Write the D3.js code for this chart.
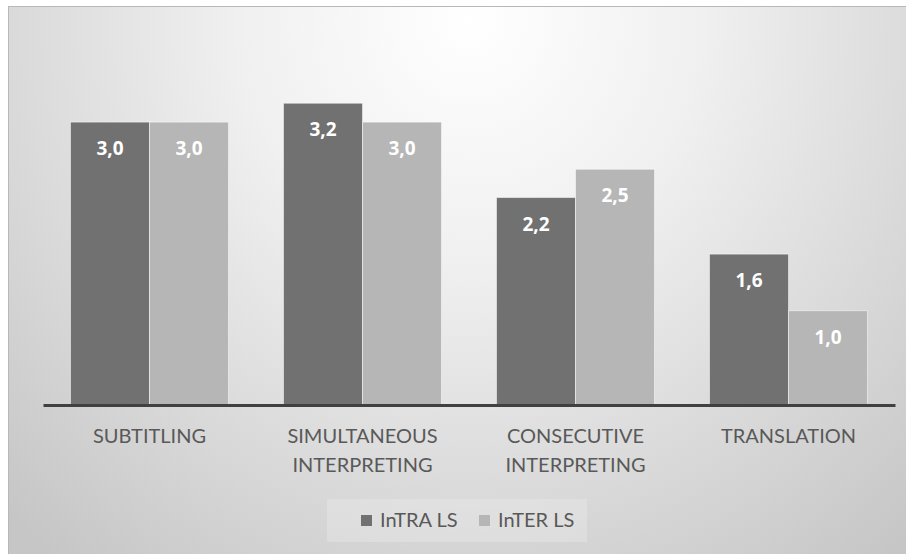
<!DOCTYPE html>
<html>
<head>
<meta charset="utf-8">
<script src="https://cdn.jsdelivr.net/npm/d3@7"></script>
<style>
  html, body { margin: 0; padding: 0; background: #ffffff; }
  svg { display: block; }
</style>
</head>
<body>
<svg id="chart" width="906" height="554"></svg>
<script>
const categories = [["SUBTITLING"], ["SIMULTANEOUS", "INTERPRETING"], ["CONSECUTIVE", "INTERPRETING"], ["TRANSLATION"]];
const seriesNames = ["InTRA LS", "InTER LS"];
const intraValues = [3.0, 3.2, 2.2, 1.6];
const interValues = [3.0, 3.0, 2.5, 1.0];
const seriesColors = ["#717171", "#b6b6b6"];

const svg = d3.select("#chart");
const W = 906, H = 554;
const font = "Lato, 'Open Sans', sans-serif";
const valFont = "'Open Sans', sans-serif";

// background
const defs = svg.append("defs");
const grad = defs.append("radialGradient")
  .attr("id", "bg").attr("gradientUnits", "userSpaceOnUse")
  .attr("cx", 470).attr("cy", 20).attr("r", 600)
  .attr("gradientTransform", "translate(470,20) scale(1.1,1.15) translate(-470,-20)");
grad.append("stop").attr("offset", "0").attr("stop-color", "#ffffff");
grad.append("stop").attr("offset", "0.35").attr("stop-color", "#f0f0f0");
grad.append("stop").attr("offset", "1").attr("stop-color", "#c6c6c6");

svg.append("rect").attr("x", 8.5).attr("y", 6.5).attr("width", W).attr("height", H)
  .attr("fill", "url(#bg)").attr("stroke", "#b8b8b8").attr("stroke-width", 1);

const keys = categories.map(c => c.join(" "));
const baseY = 405;
const x0 = d3.scaleBand().domain(keys).range([43, 895]).paddingInner(0).paddingOuter(0);
const groupW = x0.bandwidth() * (158 / 213);
const x1 = d3.scaleBand().domain(seriesNames).range([0, groupW]).padding(0);
const y = d3.scaleLinear().domain([0, 4]).range([baseY, baseY - 4 * 94.3]);

const data = keys.map((k, i) => ({ key: k, vals: [intraValues[i], interValues[i]] }));

const groups = svg.append("g").selectAll("g").data(data).join("g")
  .attr("transform", d => `translate(${x0(d.key) + (x0.bandwidth() - groupW) / 2},0)`);

groups.selectAll("rect").data(d => d.vals.map((v, j) => ({ v, s: seriesNames[j], j })))
  .join("rect")
  .attr("x", d => x1(d.s))
  .attr("y", d => y(d.v))
  .attr("width", x1.bandwidth())
  .attr("height", d => baseY - y(d.v))
  .attr("fill", d => seriesColors[d.j])
  .attr("stroke", "rgba(255,255,255,0.5)")
  .attr("stroke-width", 1);

groups.selectAll("text.val").data(d => d.vals.map((v, j) => ({ v, s: seriesNames[j], j })))
  .join("text").attr("class", "val")
  .attr("x", d => x1(d.s) + x1.bandwidth() / 2)
  .attr("y", d => y(d.v) + 33)
  .attr("text-anchor", "middle")
  .attr("font-family", valFont).attr("font-weight", "bold").attr("font-size", 19)
  .attr("fill", "#ffffff")
  .text(d => d3.format(".1f")(d.v).replace(".", ","));

// axis
const xAxis = d3.axisBottom(x0).tickSize(0).tickFormat("");
const axisG = svg.append("g").attr("transform", `translate(0,${baseY})`).call(xAxis);
axisG.select(".domain").attr("stroke", "#404040").attr("stroke-width", 3);

// category labels
const labelG = svg.append("g");
data.forEach((d, i) => {
  const t = labelG.append("text")
    .attr("x", x0(d.key) + x0.bandwidth() / 2)
    .attr("y", 443)
    .attr("text-anchor", "middle")
    .attr("font-family", font).attr("font-size", 20).attr("fill", "#595959");
  categories[i].forEach((line, li) => {
    t.append("tspan").attr("x", x0(d.key) + x0.bandwidth() / 2).attr("dy", li === 0 ? 0 : 29).text(line);
  });
});

// legend
const leg = svg.append("g");
leg.append("rect").attr("x", 327).attr("y", 499).attr("width", 260).attr("height", 43)
  .attr("fill", "#ffffff").attr("fill-opacity", 0.2);
const legX = [361, 479];
seriesNames.forEach((s, j) => {
  leg.append("rect").attr("x", legX[j]).attr("y", 515).attr("width", 11).attr("height", 11)
    .attr("fill", seriesColors[j]);
  leg.append("text").attr("x", legX[j] + 19).attr("y", 527)
    .attr("font-family", font).attr("font-size", 20).attr("fill", "#595959").text(s);
});
</script>
</body>
</html>
